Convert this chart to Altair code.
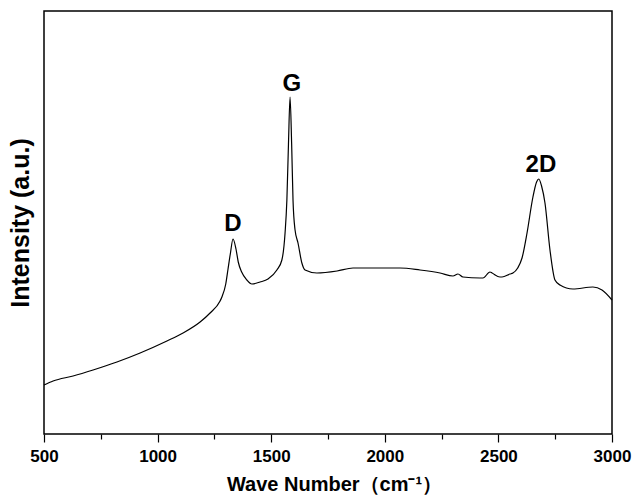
import altair as alt
import pandas as pd

wave_number = [500, 540, 628, 716, 821, 923, 1041, 1112, 1187, 1231, 1275, 1283, 1300, 1310,
               1320, 1332, 1345, 1355, 1370, 1393, 1415, 1451, 1486, 1525, 1547, 1561, 1569,
               1576, 1583, 1590, 1596, 1605, 1618, 1635, 1649, 1701, 1790, 1860, 1935, 1979,
               2067, 2155, 2243, 2300, 2322, 2344, 2419, 2432, 2463, 2472, 2507, 2516, 2551,
               2564, 2585, 2604, 2626, 2652, 2668, 2678, 2690, 2705, 2727, 2749, 2771, 2828,
               2916, 2956, 3000]
intensity = [49, 53, 58, 64, 72, 81, 93, 101, 112, 121, 133, 137, 150, 165,
             180, 195, 185, 172, 162, 154, 150, 152, 155, 164, 174, 201, 234,
             290, 337, 290, 234, 204, 191, 171, 164, 161, 163, 166, 166, 166,
             166, 164, 161, 158, 160, 157, 156, 156, 162, 161, 157, 157, 160,
             161, 166, 176, 201, 237, 252, 255, 248, 231, 184, 154, 149, 145,
             147, 144, 134]

peak_names = ["D", "G", "2D"]
peak_x = [1332, 1591, 2687]
peak_y = [210, 350, 269]

spec = pd.DataFrame({"wn": wave_number, "inten": intensity})
peaks = pd.DataFrame({"name": peak_names, "wn": peak_x, "inten": peak_y})

FONT = "Liberation Sans"

x_scale = alt.Scale(domain=[500, 3000], nice=False, zero=False)
y_scale = alt.Scale(domain=[0, 423], nice=False, zero=False)

x_axis = alt.Axis(
    values=list(range(500, 3001, 250)),
    labelExpr="datum.value % 500 == 0 ? datum.label : ''",
    format="d",
    tickSize={"condition": {"test": "datum.value % 500 === 0", "value": 8}, "value": 5},
    tickColor="black", tickWidth=1.2,
    domain=False, grid=False,
    labelFont=FONT, labelFontSize=17, labelFontWeight="bold", labelColor="black",
    labelPadding=6, labelFlush=False,
    title="Wave Number（cm⁻¹）", titleFont=FONT, titleFontSize=20,
    titleFontWeight="bold", titleColor="black", titlePadding=10, titleX=290,
)
y_axis = alt.Axis(
    labels=False, ticks=False, domain=False, grid=False,
    title="Intensity (a.u.)", titleFont=FONT, titleFontSize=25,
    titleFontWeight="bold", titleColor="black", titlePadding=11,
)

line = alt.Chart(spec).mark_line(color="black", strokeWidth=1.2, interpolate="monotone").encode(
    x=alt.X("wn:Q", scale=x_scale, axis=x_axis),
    y=alt.Y("inten:Q", scale=y_scale, axis=y_axis),
)

labels = alt.Chart(peaks).mark_text(
    font=FONT, fontSize=24, fontWeight="bold", color="black", baseline="middle", align="center"
).encode(
    x=alt.X("wn:Q", scale=x_scale),
    y=alt.Y("inten:Q", scale=y_scale),
    text="name:N",
)

chart = alt.layer(line, labels).properties(
    width=568, height=423,
    autosize=alt.AutoSizeParams(type="none"),
    padding={"left": 44, "top": 11, "right": 21, "bottom": 64},
    background="white",
).configure_view(stroke="black", strokeWidth=1.5)

chart.save("out.html", embed_options={"renderer": "svg", "actions": False})
